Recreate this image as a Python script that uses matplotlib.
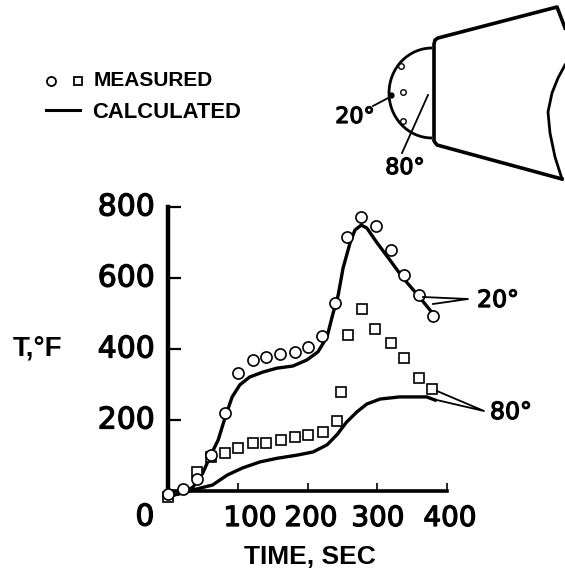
import matplotlib
matplotlib.use("Agg")
import matplotlib.pyplot as plt
import matplotlib.patheffects as pe
from matplotlib.patches import Arc

# ---- data ----
t_circ = [0, 21, 41, 62, 82, 100, 122, 140, 160, 182, 201, 221, 240, 257, 277, 298, 320, 338, 360, 380]
v_circ = [-8, 6, 34, 101, 220, 332, 369, 377, 386, 392, 406, 437, 530, 715, 772, 746, 679, 608, 552, 493]
t_sq = [0, 41, 62, 82, 100, 122, 140, 162, 182, 201, 222, 242, 248, 258, 278, 297, 320, 338, 360, 378]
v_sq = [-17, 54, 96, 107, 121, 135, 135, 144, 152, 158, 166, 197, 279, 439, 513, 456, 417, 375, 318, 287]
t_20 = [0, 21, 36, 50, 60, 72, 82, 92, 103, 117, 136, 156, 179, 199, 215, 228, 236, 244, 251, 261, 268, 277, 285, 299, 318, 337, 358, 378]
v_20 = [-15, -6, 11, 51, 96, 144, 208, 265, 299, 321, 335, 346, 352, 369, 392, 434, 496, 552, 628, 699, 735, 749, 741, 701, 651, 600, 552, 504]
t_80 = [0, 36, 64, 85, 107, 132, 156, 185, 208, 228, 242, 256, 271, 285, 304, 332, 371, 383]
v_80 = [-15, 3, 17, 45, 65, 82, 92, 101, 110, 130, 158, 194, 223, 245, 259, 265, 265, 256]
y_ticks = [0, 200, 400, 600, 800]
x_ticks = [100, 200, 300, 400]
y_tick_labels = ["0", "200", "400", "600", "800"]
x_tick_labels = ["100", "200", "300", "400"]

W, H = 565, 576
fig = plt.figure(figsize=(W / 100, H / 100), dpi=100, facecolor="white")
FONT = "DejaVu Sans"
BOLD = "Liberation Sans"
thick = [pe.withStroke(linewidth=0.9, foreground="black")]

# plot axes: x 168..447 px, y 207..491 px
ax = fig.add_axes([168 / W, 1 - 491 / H, 279 / W, 284 / H])
ax.set_xlim(0, 400)
ax.set_ylim(0, 800)
ax.patch.set_alpha(0)
for s in ("top", "right"):
    ax.spines[s].set_visible(False)
ax.spines["left"].set_linewidth(3.2)
ax.spines["left"].set_bounds(-15, 800)
ax.spines["bottom"].set_linewidth(2.6)
ax.set_xticks(x_ticks)
ax.set_yticks(y_ticks)
ax.set_xticklabels([])
ax.set_yticklabels([])
ax.tick_params(axis="x", direction="in", length=6, width=1.2)
ax.tick_params(axis="y", direction="in", length=9, width=1.6)

ax.plot(t_20, v_20, color="black", lw=2.4, solid_joinstyle="round", clip_on=False, zorder=3)
ax.plot(t_80, v_80, color="black", lw=2.4, solid_joinstyle="round", clip_on=False, zorder=3)
ax.plot(t_sq, v_sq, ls="none", marker="s", ms=7, mfc="white", mec="black", mew=1.2, clip_on=False, zorder=4)
ax.plot(t_circ, v_circ, ls="none", marker="o", ms=8, mfc="white", mec="black", mew=1.2, clip_on=False, zorder=5)

# overlay in pixel coordinates for the annotations and the schematic
ov = fig.add_axes([0, 0, 1, 1])
ov.set_xlim(0, W)
ov.set_ylim(H, 0)
ov.axis("off")
ov.patch.set_alpha(0)

for lab, v in zip(y_tick_labels[1:], y_ticks[1:]):
    ov.text(155, 491 - v * 0.355, lab, ha="right", va="center", family=FONT, fontsize=21.5, path_effects=thick)
ov.text(145, 517, y_tick_labels[0], ha="center", va="center", family=FONT, fontsize=21.5, path_effects=thick)
for lab, x in zip(x_tick_labels, [250, 311, 378, 450]):
    ov.text(x, 518, lab, ha="center", va="center", family=FONT, fontsize=20, path_effects=thick)

ov.text(38, 348, "T,°F", ha="center", va="center", family=BOLD, fontweight="bold", fontsize=20)
ov.text(310, 557, "TIME, SEC", ha="center", va="center", family=BOLD, fontweight="bold", fontsize=19)

# legend
ov.plot([51], [81], ls="none", marker="o", ms=6.5, mfc="white", mec="black", mew=1.3)
ov.plot([78], [81], ls="none", marker="s", ms=5.5, mfc="white", mec="black", mew=1.3)
ov.plot([46, 80], [110, 110], color="black", lw=2.2)
ov.text(94, 81, "MEASURED", ha="left", va="center", family=BOLD, fontweight="bold", fontsize=15)
ov.text(92, 112, "CALCULATED", ha="left", va="center", family=BOLD, fontweight="bold", fontsize=15.8)

# leaders on the plot
ov.plot([423, 468, 433], [297, 299, 304], color="black", lw=1.3)
ov.plot([437, 484, 428], [391, 411, 398], color="black", lw=1.3)
ov.text(498, 300, "20°", ha="center", va="center", family=FONT, fontsize=17, path_effects=thick)
ov.text(511, 412, "80°", ha="center", va="center", family=FONT, fontsize=17, path_effects=thick)

# schematic of the body
cone_x = [565, 558, 552, 548, 550, 555, 562]
cone_y = [65, 78, 93, 112, 133, 157, 179]
edge_x = [565, 562, 557, 438, 435, 434, 434, 437, 562]
edge_y = [28, 20, 7, 38, 40, 44, 141, 145, 179]
ov.add_patch(Arc((432, 93), 86, 90, theta1=90, theta2=270, color="black", lw=2.0))
ov.plot(cone_x, cone_y, color="black", lw=2.0, solid_joinstyle="round")
ov.plot(edge_x, edge_y, color="black", lw=2.6, solid_joinstyle="round")
ov.plot([401, 403, 403], [66, 92, 121], ls="none", marker="o", ms=4, mfc="white", mec="black", mew=1.0)
ov.plot([373, 390], [106, 97], color="black", lw=1.3)
ov.plot([391], [95], ls="none", marker="o", ms=3.5, color="black")
ov.plot([402, 428], [153, 95], color="black", lw=1.3)
ov.text(355, 117, "20°", ha="center", va="center", family=FONT, fontsize=16, path_effects=thick)
ov.text(405, 168, "80°", ha="center", va="center", family=FONT, fontsize=16, path_effects=thick)

fig.savefig("out.png", dpi=100, facecolor="white")
